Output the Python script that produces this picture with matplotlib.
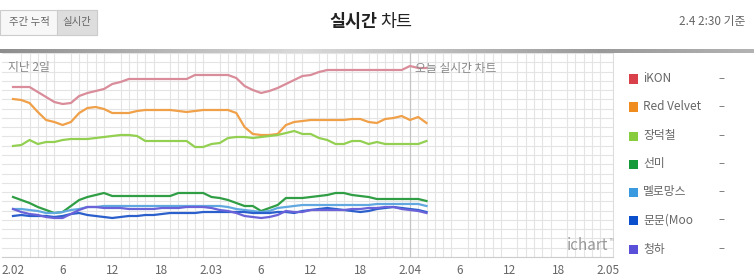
import numpy as np
import matplotlib.pyplot as plt
from matplotlib.patches import Rectangle

plt.rcParams['font.family'] = ['Noto Sans CJK KR', 'DejaVu Sans']

# hourly points from 2.02 00:00 to 2.04 02:00
hours = np.arange(51)

ikon = [170, 170, 170, 165, 160, 155, 153, 154, 161, 164, 166, 168, 173, 175, 178, 178, 178,
        178, 178, 178, 178, 178, 182, 182, 182, 182, 182, 179, 171, 167, 164, 166, 169, 173,
        177, 181, 182, 185, 187, 187, 187, 187, 187, 187, 187, 187, 187, 187, 191, 189, 189]
red_velvet = [158, 157, 154, 145, 137, 135, 132, 135, 144, 149, 150, 148, 144, 144, 144, 146, 147,
              147, 147, 147, 146, 145, 146, 147, 147, 147, 147, 144, 130, 123, 122, 122, 123, 132,
              135, 136, 137, 137, 137, 137, 137, 138, 138, 135, 134, 138, 139, 141, 137, 140, 134]
jang = [111, 112, 117, 113, 115, 115, 117, 118, 118, 118, 119, 120, 121, 122, 122, 121, 116,
        116, 116, 116, 116, 116, 110, 110, 113, 114, 119, 120, 120, 119, 120, 121, 122, 124,
        126, 123, 123, 119, 117, 113, 113, 116, 116, 113, 115, 113, 113, 113, 113, 113, 116]
sunmi = [60, 57, 54, 50, 47, 44, 45, 51, 57, 60, 62, 64, 61, 61, 61, 61, 61,
         61, 61, 61, 64, 64, 64, 64, 60, 59, 57, 54, 51, 51, 46, 49, 52, 59,
         59, 59, 60, 61, 62, 64, 64, 62, 61, 60, 58, 58, 58, 58, 58, 58, 56]
melomance = [48, 48, 47, 46, 44, 44, 45, 47, 48, 50, 50, 51, 51, 51, 51, 51, 51,
             51, 51, 51, 51, 51, 51, 51, 51, 51, 50, 48, 47, 46, 45, 46, 49, 50,
             51, 52, 52, 52, 52, 52, 52, 52, 52, 52, 53, 53, 53, 53, 53, 53, 51]
moonmoon = [41, 42, 41, 41, 41, 40, 41, 43, 44, 42, 41, 40, 39, 40, 41, 41, 42,
            42, 43, 44, 44, 44, 44, 45, 45, 45, 45, 45, 45, 44, 44, 44, 45, 45,
            44, 46, 47, 48, 49, 48, 47, 46, 45, 46, 48, 49, 50, 49, 48, 47, 45]
chungha = [48, 45, 43, 42, 40, 39, 39, 43, 47, 50, 50, 49, 49, 49, 48, 48, 48,
           48, 49, 49, 49, 50, 50, 50, 49, 47, 46, 44, 41, 40, 39, 40, 42, 46,
           45, 45, 47, 47, 47, 47, 47, 48, 48, 49, 49, 50, 50, 48, 47, 46, 44]

names = ['iKON', 'Red Velvet', '장덕철', '선미', '멜로망스', '문문(Moo', '청하']
series = [ikon, red_velvet, jang, sunmi, melomance, moonmoon, chungha]
line_colors = ['#d98c99', '#f0a048', '#93d052', '#2f9e44', '#62a8e0', '#2a5fcc', '#6a62d8']
box_colors = ['#d9404a', '#f08c1e', '#86cc3c', '#159a3a', '#3a9ae0', '#0b4fcc', '#5a4fd8']

tick_hours = [0, 6, 12, 18, 24, 30, 36, 42, 48, 54, 60, 66, 72]
tick_labels = ['2.02', '6', '12', '18', '2.03', '6', '12', '18', '2.04', '6', '12', '18', '2.05']

W, H = 754, 276
fig = plt.figure(figsize=(W / 100, H / 100), dpi=100)

# plot area in pixels
px_l, px_r, px_t, px_b = 2, 613, 53, 257
ax = fig.add_axes([px_l / W, 1 - px_b / H, (px_r - px_l) / W, (px_b - px_t) / H])
x0 = (px_l - 13) / 8.27
x1 = (px_r - 13) / 8.27
ax.set_xlim(x0, x1)
ax.set_ylim(0, 204)

# fine grid
ax.set_xticks(np.arange(0, 73, 1), minor=True)
ax.set_yticks(np.linspace(0, 204, 23), minor=True)
ax.grid(which='minor', color='#e4e4e4', linewidth=0.8)
ax.set_yticks([])
ax.set_xticks(tick_hours)
ax.set_xticklabels(tick_labels, color='#666666', fontsize=8.5)
ax.tick_params(axis='x', length=0, pad=5)
ax.tick_params(axis='y', which='both', length=0)
ax.tick_params(axis='x', which='minor', length=0)
for s in ['top', 'left']:
    ax.spines[s].set_visible(False)
ax.spines['bottom'].set_color('#cccccc')
ax.spines['right'].set_color('#dddddd')
ax.set_axisbelow(True)
ax.axvline(48, color='#c4c4c4', linewidth=0.9)

for vals, c in zip(series, line_colors):
    ax.plot(hours, vals, color=c, linewidth=1.6, solid_joinstyle='round')

ax.text(8 / 8.27 * 0 + (8 - 13) / 8.27, 190, '지난 2일', color='#888888', fontsize=8.5,
        va='center', ha='left')
ax.text((415 - 13) / 8.27, 189, '오늘 실시간 차트', color='#888888', fontsize=8.5,
        va='center', ha='left')
ax.text((608 - 13) / 8.27, 12, 'ichart', color='#999999', fontsize=11,
        va='center', ha='right')
ax.text((609 - 13) / 8.27, 17, 'TM', color='#aaaaaa', fontsize=3, va='center', ha='left')

# header
fig.text(377 / W, 1 - 22 / H, '실시간', fontsize=12.5, fontweight='bold', color='#222222',
         ha='right', va='center')
fig.text(380 / W, 1 - 22 / H, '차트', fontsize=12.5, color='#222222', ha='left', va='center')
fig.text(745 / W, 1 - 22 / H, '2.4 2:30 기준', fontsize=8.5, color='#666666',
         ha='right', va='center')

fig.patches.append(Rectangle((0, 1 - 35 / H), 97 / W, 25 / H, transform=fig.transFigure,
                             facecolor='#f7f7f7', edgecolor='#cccccc', linewidth=0.8))
fig.patches.append(Rectangle((57 / W, 1 - 35 / H), 40 / W, 25 / H, transform=fig.transFigure,
                             facecolor='#dddddd', edgecolor='#cccccc', linewidth=0.8))
fig.text(29 / W, 1 - 22 / H, '주간 누적', fontsize=7.5, color='#666666', ha='center', va='center')
fig.text(77 / W, 1 - 22 / H, '실시간', fontsize=7.5, color='#666666', ha='center', va='center')

# gradient bar under header
bar = fig.add_axes([0, 1 - 53 / H, 1, 4 / H])
grad = np.concatenate([np.linspace(0.55, 0.85, 300), np.linspace(0.85, 0.6, 300),
                       np.linspace(0.6, 0.7, 154)])
bar.imshow(grad[np.newaxis, :], aspect='auto', cmap='gray', vmin=0, vmax=1)
bar.axis('off')

# legend
leg_y = [79, 107, 136, 164, 192, 220, 249]
for n, c, y in zip(names, box_colors, leg_y):
    fig.patches.append(Rectangle((629 / W, 1 - (y + 4.5) / H), 9 / W, 9 / H,
                                 transform=fig.transFigure, facecolor=c, edgecolor='none'))
    fig.text(643 / W, 1 - y / H, n, fontsize=8.5, color='#666666', ha='left', va='center')
    fig.text(718 / W, 1 - y / H, '–', fontsize=8, color='#666666', ha='left', va='center')

fig.savefig('out.png', dpi=100)
